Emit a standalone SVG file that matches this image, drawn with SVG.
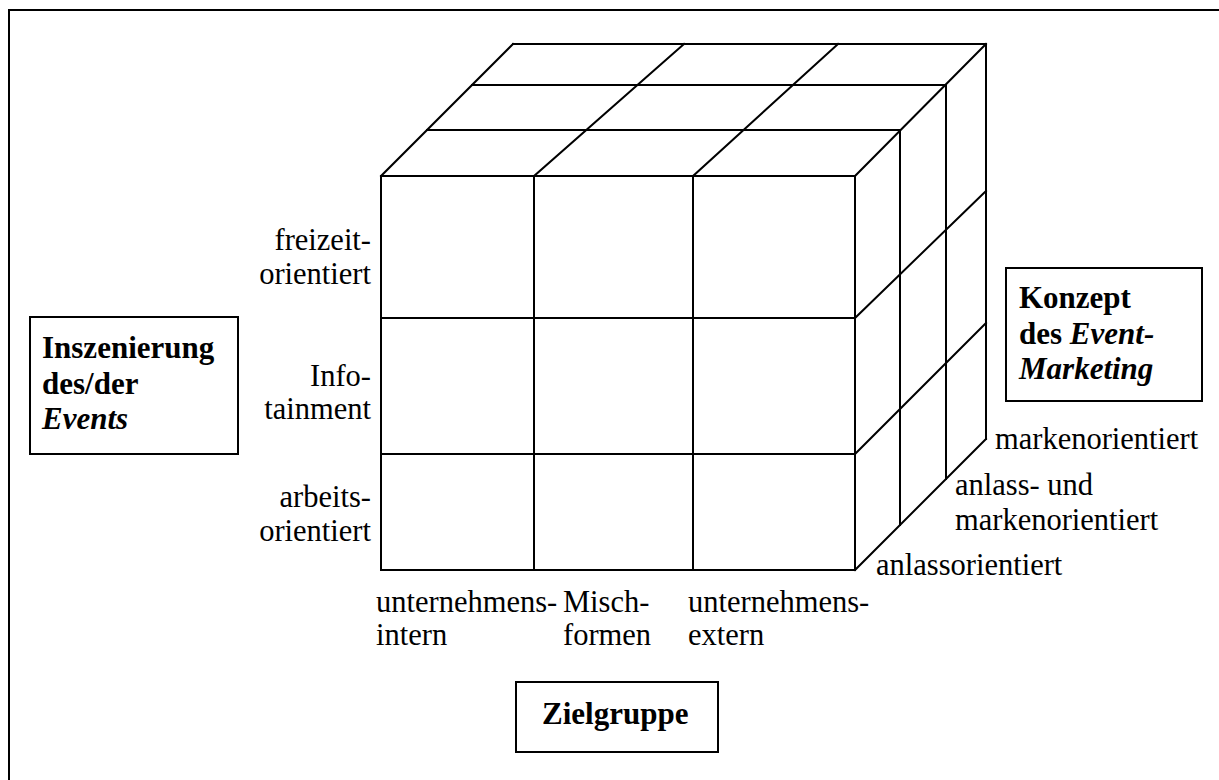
<svg xmlns="http://www.w3.org/2000/svg" width="1219" height="780" viewBox="0 0 1219 780">
<style>
.ln{stroke:#000;stroke-width:2;fill:none;stroke-linecap:square}
.bx{stroke:#000;stroke-width:2;fill:#fff}
.t{font-family:"Liberation Serif","Times New Roman",serif;font-size:30.5px;fill:#000}
.b{font-weight:bold;font-size:31px}
.i{font-style:italic}
.r{text-anchor:end}
</style>
<rect width="1219" height="780" fill="#fff"/>
<path class="ln" d="M9,780 V10 H1219"/>
<g id="cube">
<rect class="ln" x="381" y="176" width="474" height="394"/>
<path class="ln" d="M534,176 V570 M693,176 V570 M381,318 H855 M381,454 H855"/>
<path class="ln" d="M513,44 H986 M472,85 H946 M427,130 H900 M381,176 L513,44 M534,176 L684,44 M693,176 L838,44 M855,176 L986,44"/>
<path class="ln" d="M900,130 V525 M946,85 V479 M986,44 V439 M855,318 L986,191 M855,454 L986,323 M855,570 L986,439"/>
</g>
<g id="labels-rows">
<text class="t r" x="371" y="250">freizeit-</text>
<text class="t r" x="371" y="284">orientiert</text>
<text class="t r" x="371" y="386">Info-</text>
<text class="t r" x="371" y="419">tainment</text>
<text class="t r" x="371" y="507">arbeits-</text>
<text class="t r" x="371" y="541">orientiert</text>
</g>
<g id="labels-cols">
<text class="t" x="376" y="612">unternehmens-</text>
<text class="t" x="376" y="645">intern</text>
<text class="t" x="563" y="612">Misch-</text>
<text class="t" x="563" y="645">formen</text>
<text class="t" x="688" y="612">unternehmens-</text>
<text class="t" x="688" y="645">extern</text>
</g>
<g id="labels-depth">
<text class="t" x="995" y="449">markenorientiert</text>
<text class="t" x="955" y="495">anlass- und</text>
<text class="t" x="955" y="530">markenorientiert</text>
<text class="t" x="876" y="575">anlassorientiert</text>
</g>
<g id="node-inszenierung">
<rect class="bx" x="30" y="317" width="208" height="137"/>
<text class="t b" x="42" y="358">Inszenierung</text>
<text class="t b" x="42" y="394">des/der</text>
<text class="t b i" x="42" y="429">Events</text>
</g>
<g id="node-konzept">
<rect class="bx" x="1006" y="268" width="196" height="133"/>
<text class="t b" x="1019" y="308">Konzept</text>
<text class="t b" x="1019" y="344">des <tspan class="i">Event-</tspan></text>
<text class="t b i" x="1019" y="379">Marketing</text>
</g>
<g id="node-zielgruppe">
<rect class="bx" x="516" y="682" width="202" height="70"/>
<text class="t b" x="542" y="724">Zielgruppe</text>
</g>
<g id="connectors"></g>
</svg>
